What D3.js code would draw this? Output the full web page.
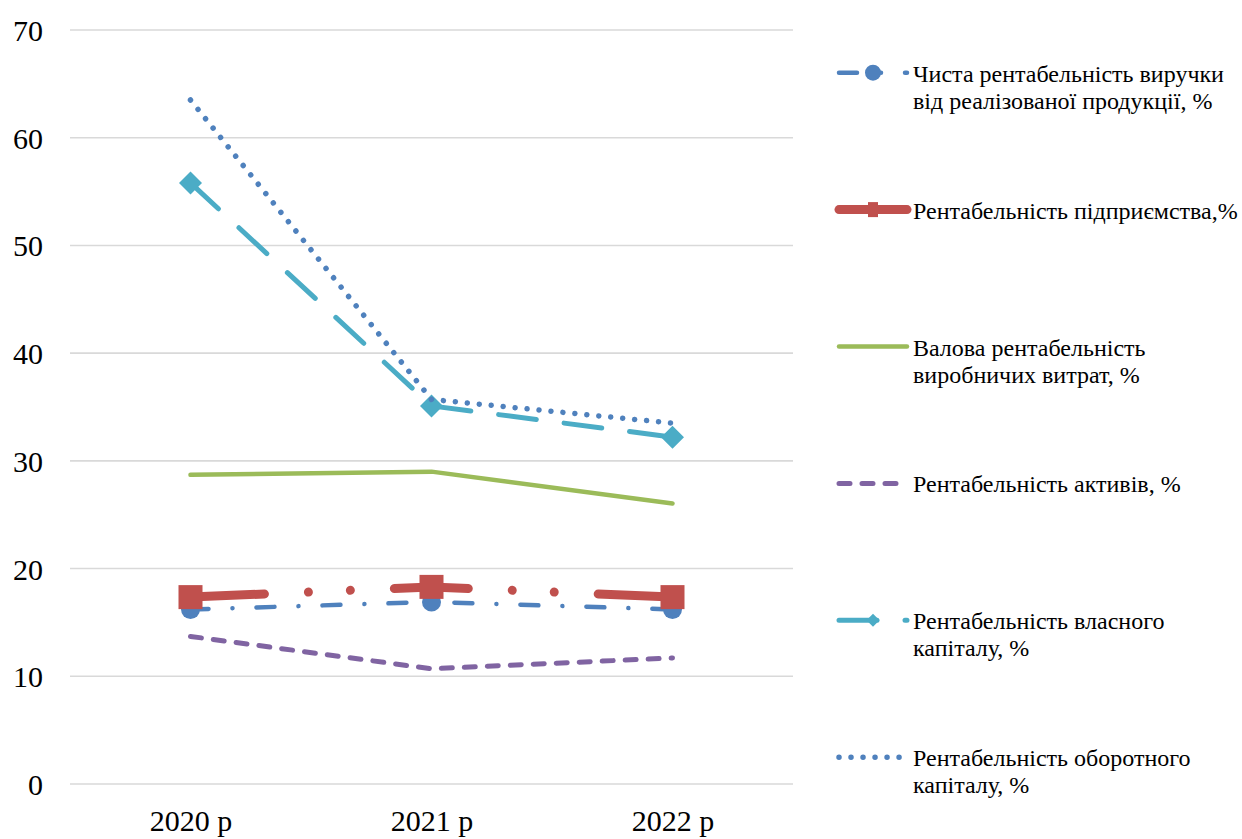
<!DOCTYPE html>
<html>
<head>
<meta charset="utf-8">
<script src="https://cdn.jsdelivr.net/npm/d3@7"></script>
<style>
  html, body { margin: 0; padding: 0; background: #fff; }
  svg { display: block; }
</style>
</head>
<body>
<svg id="chart" width="1242" height="839"></svg>
<script>
// ---- data ----
const categories = ["2020 р", "2021 р", "2022 р"];
const yTicks = [0, 10, 20, 30, 40, 50, 60, 70];

const seriesNames = [
  ["Чиста рентабельність виручки", "від реалізованої продукції, %"],
  ["Рентабельність підприємства,%"],
  ["Валова рентабельність", "виробничих витрат, %"],
  ["Рентабельність активів, %"],
  ["Рентабельність власного", "капіталу, %"],
  ["Рентабельність оборотного", "капіталу, %"]
];
const netSalesProfitability = [16.2, 16.9, 16.2];
const enterpriseProfitability = [17.35, 18.3, 17.35];
const grossProductionProfitability = [28.7, 29.0, 26.05];
const assetsProfitability = [13.7, 10.7, 11.7];
const equityProfitability = [55.8, 35.1, 32.2];
const workingCapitalProfitability = [63.5, 35.7, 33.5];

const seriesValues = [
  netSalesProfitability,
  enterpriseProfitability,
  grossProductionProfitability,
  assetsProfitability,
  equityProfitability,
  workingCapitalProfitability
];

// ---- styles ----
const FONT = "'Liberation Serif', 'Times New Roman', serif";
const styles = [
  { color: "#4F81BD", width: 4.5, dash: "18,24,0.01,24", marker: "circle", size: 9.5, lsize: 8 },
  { color: "#C0504D", width: 9, dash: "74,44,0.01,42,0.01,44", marker: "square", size: 24, lw: 10, lh: 15 },
  { color: "#9BBB59", width: 4.5, dash: null, marker: null },
  { color: "#8064A2", width: 5, dash: "11,12", marker: null },
  { color: "#4BACC6", width: 5, dash: "38,28", marker: "diamond", size: 23, lsize: 13 },
  { color: "#4F81BD", width: 5.5, dash: "0.01,12", marker: null }
];

const svg = d3.select("#chart");
const plot = { left: 70, right: 793, top: 30, bottom: 784 };

const x = d3.scalePoint().domain(categories).range([plot.left, plot.right]).padding(0.5);
const y = d3.scaleLinear().domain([0, 70]).range([plot.bottom, plot.top]);

// gridlines
svg.append("g").selectAll("line").data(yTicks).join("line")
  .attr("x1", plot.left).attr("x2", plot.right)
  .attr("y1", d => y(d)).attr("y2", d => y(d))
  .attr("stroke", "#D9D9D9").attr("stroke-width", 1.6);

// y axis labels
const yAxis = d3.axisLeft(y).tickValues(yTicks).tickSize(0).tickPadding(0);
const ya = svg.append("g").attr("transform", "translate(43,0)").call(yAxis);
ya.select(".domain").remove();
ya.selectAll("text").style("font-family", FONT).style("font-size", "30px")
  .attr("fill", "#000").attr("dy", "0.35em");

// x axis labels
const xAxis = d3.axisBottom(x).tickSize(0).tickPadding(0);
const xa = svg.append("g").attr("transform", "translate(0,831)").call(xAxis);
xa.select(".domain").remove();
xa.selectAll("text").style("font-family", FONT).style("font-size", "30px")
  .attr("fill", "#000").attr("dy", 0);

function drawMarker(g, st, cx, cy, legend) {
  if (st.marker === "circle") {
    g.append("circle").attr("cx", cx).attr("cy", cy)
      .attr("r", legend ? st.lsize : st.size).attr("fill", st.color);
  } else if (st.marker === "square") {
    const w = legend ? st.lw : st.size, h = legend ? st.lh : st.size;
    g.append("rect").attr("x", cx - w / 2).attr("y", cy - h / 2)
      .attr("width", w).attr("height", h).attr("fill", st.color);
  } else if (st.marker === "diamond") {
    const s = (legend ? st.lsize : st.size) / 2;
    g.append("path").attr("d", `M${cx},${cy - s}L${cx + s},${cy}L${cx},${cy + s}L${cx - s},${cy}Z`)
      .attr("fill", st.color);
  }
}

const line = d3.line().x((d, i) => x(categories[i])).y(d => y(d));

seriesValues.forEach((vals, k) => {
  const st = styles[k];
  const g = svg.append("g");
  g.append("path").datum(vals).attr("d", line)
    .attr("fill", "none").attr("stroke", st.color).attr("stroke-width", st.width)
    .attr("stroke-linecap", "round").attr("stroke-linejoin", "round")
    .attr("stroke-dasharray", st.dash);
  if (st.marker) vals.forEach((v, i) => drawMarker(g, st, x(categories[i]), y(v), false));
});

// legend
const legendY0 = 72.7, legendStep = 136.9;
seriesNames.forEach((lines, k) => {
  const st = styles[k];
  const ly = legendY0 + k * legendStep;
  const g = svg.append("g");
  g.append("line").attr("x1", 839).attr("x2", 907).attr("y1", ly).attr("y2", ly)
    .attr("stroke", st.color).attr("stroke-width", st.width)
    .attr("stroke-linecap", "round").attr("stroke-dasharray", st.dash);
  if (st.marker) drawMarker(g, st, 873, ly, true);
  const t = g.append("text").attr("x", 913).attr("y", ly + 9)
    .style("font-family", FONT).style("font-size", "24px").attr("fill", "#000");
  lines.forEach((s, i) => {
    t.append("tspan").attr("x", 913).attr("dy", i === 0 ? 0 : 27).text(s);
  });
});
</script>
</body>
</html>
